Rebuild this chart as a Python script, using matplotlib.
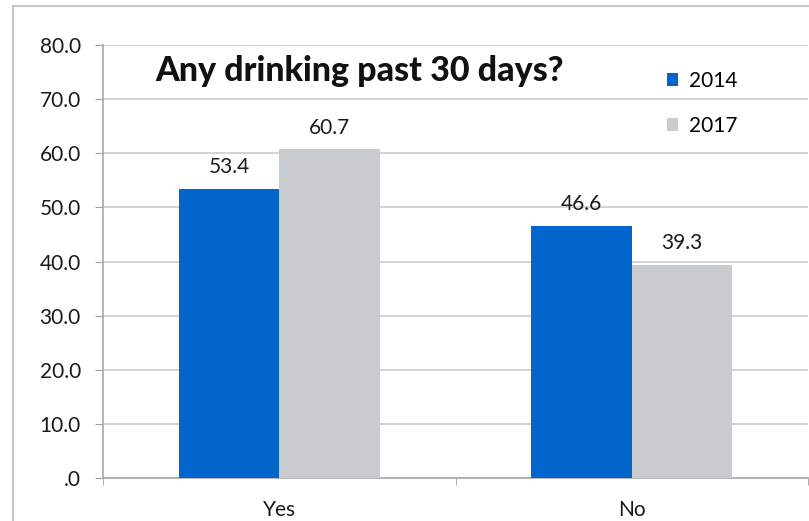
import matplotlib.pyplot as plt
import matplotlib.patches as mpatches
import numpy as np

plt.rcParams['font.family'] = ['Lato', 'DejaVu Sans']

categories = ['Yes', 'No']
years = ['2014', '2017']
vals_2014 = [53.4, 46.6]
vals_2017 = [60.7, 39.3]
colors = ['#0066CC', '#C9CCCF']

fig = plt.figure(figsize=(8.09, 5.21), dpi=100)
ax = fig.add_axes([103/809, 43/521, 705/809, 433/521])

# outer chart border (cropped at right/bottom)
fig.patches.append(mpatches.Rectangle((13/809, -0.1), 2, 0.1 + 515/521,
                                      transform=fig.transFigure, fill=False,
                                      edgecolor='#C8C8C8', linewidth=1.5))

x = np.arange(len(categories))
w = 0.285
b1 = ax.bar(x - w/2, vals_2014, w, color=colors[0], label=years[0], zorder=3)
b2 = ax.bar(x + w/2, vals_2017, w, color=colors[1], label=years[1], zorder=3)

for bars in (b1, b2):
    for r in bars:
        ax.text(r.get_x() + r.get_width()/2, r.get_height() + 2.2,
                '%.1f' % r.get_height(), ha='center', va='bottom',
                fontsize=15, color='#1a1a1a')

ax.set_ylim(0, 80)
ax.set_xlim(-0.5, 1.5)
yt = np.arange(0, 81, 10)
ax.set_yticks(yt)
ax.set_yticklabels(['.0'] + ['%.1f' % v for v in yt[1:]])
ax.set_xticks(x)
ax.set_xticklabels(categories)
ax.set_xticks([-0.5, 0.5, 1.5], minor=True)
ax.tick_params(axis='x', which='major', length=0, labelsize=15, pad=16, labelcolor='#1a1a1a')
ax.tick_params(axis='x', which='minor', length=5, color='#A0A0A0', direction='out')
ax.tick_params(axis='y', length=6, color='#A0A0A0', labelsize=15, pad=10, labelcolor='#1a1a1a')
ax.grid(axis='y', color='#D4D4D4', linewidth=1.5, zorder=0)

for s in ['top', 'right']:
    ax.spines[s].set_visible(False)
ax.spines['left'].set_color('#A8A8A8')
ax.spines['bottom'].set_color('#A8A8A8')
ax.spines['left'].set_linewidth(1.2)
ax.spines['bottom'].set_linewidth(1.2)

ax.text(155/809, (521-71)/521, 'Any drinking past 30 days?', transform=fig.transFigure,
        fontsize=24.5, fontweight='black', va='center', ha='left', color='#111111')

ax.legend(loc='upper left', bbox_to_anchor=(648/809, (521-52)/521),
          bbox_transform=fig.transFigure, frameon=False, fontsize=15,
          handlelength=0.55, handleheight=0.55, handletextpad=0.5, labelspacing=1.2)

fig.savefig('out.png', dpi=100)
